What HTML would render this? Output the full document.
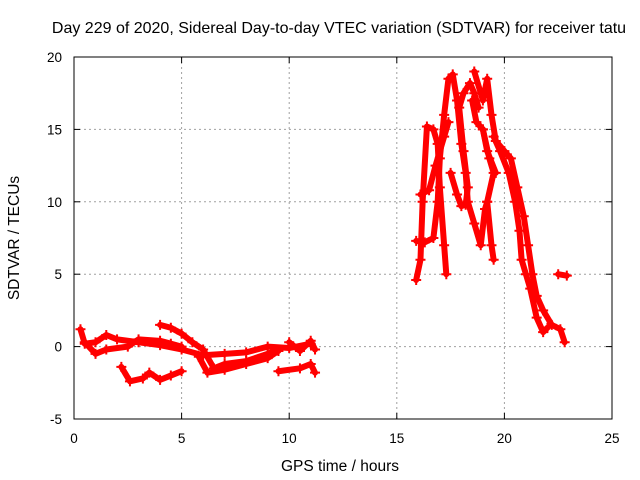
<!DOCTYPE html>
<html><head><meta charset="utf-8"><style>
html,body{margin:0;padding:0;background:#fff}
svg{display:block;font-family:"Liberation Sans",sans-serif}
</style></head><body>
<svg id="chart" width="640" height="480">
<text x="339" y="33" font-size="16" text-anchor="middle" fill="#000">Day 229 of 2020, Sidereal Day-to-day VTEC variation (SDTVAR) for receiver tatu</text>
<text x="340" y="471" font-size="15.5" text-anchor="middle">GPS time / hours</text>
<text x="19" y="238" font-size="15.5" text-anchor="middle" transform="rotate(-90 19 238)">SDTVAR / TECUs</text>
<g id="grid"></g>
<g id="marks"></g>
<rect x="74" y="57" width="538" height="362" fill="none" stroke="#000" stroke-width="1"/>
<g id="ticks"></g>
</svg>
<script>
const xTicks=[0,5,10,15,20,25];
const yTicks=[-5,0,5,10,15,20];
const trackA=[[0.3,1.2],[0.5,0.2],[1,0.3],[1.5,0.8],[2,0.5],[3,0.3],[4,0.1],[5,-0.2],[6,-0.6],[7,-0.5],[8,-0.4],[9,0],[10,-0.1],[11,0.2]];
const trackB=[[0.5,0.3],[1,-0.5],[1.5,-0.2],[2.5,0],[3,0.5],[4,0.4],[4.5,0.2],[5,0]];
const trackC=[[4,1.5],[4.5,1.3],[5,0.9],[5.5,0.3],[6,-0.2],[6.5,-1.5],[7,-1.2],[8,-1],[9,-0.5],[9.5,-0.2]];
const trackD=[[2.2,-1.4],[2.6,-2.4],[3.2,-2.2],[3.5,-1.8],[4,-2.3],[4.5,-2],[5,-1.7]];
const trackE=[[5.8,-0.7],[6.2,-1.8],[7,-1.6],[8,-1.2],[9,-0.8],[9.5,-0.3]];
const trackF=[[9.5,-1.7],[10.5,-1.5],[11,-1.2],[11.2,-1.8]];
const trackG=[[10,0.3],[10.5,-0.3],[11,0.4],[11.2,-0.2]];
const trackR1=[[15.9,4.6],[16.1,6],[16.2,10],[16.4,15.2],[16.7,15],[16.9,14],[17,11],[17.2,7],[17.3,5]];
const trackR2=[[15.9,7.3],[16.3,7.2],[16.7,7.5],[16.9,10],[17,13],[17.2,16],[17.4,18.5],[17.6,18.8],[17.8,17],[18,14],[18.2,12],[18.3,10],[18.6,8.5],[18.9,7],[19.1,9.5],[19.2,10]];
const trackR3=[[16.1,10.5],[16.5,10.8],[16.8,12.5],[17.2,14.5],[17.4,15.5]];
const trackR4=[[17.5,12],[17.8,10.5],[18,9.7],[18.2,9.8],[18.3,11],[18.1,13.5],[17.9,16.5],[18.1,17.5],[18.4,18.2],[18.6,17.5],[18.8,16.5]];
const trackR5=[[18.5,17],[18.7,15.5],[19,15],[19.3,13],[19.5,12],[19.2,10],[19.4,7],[19.5,6]];
const trackR6=[[18.6,19],[19,17],[19.2,18.5],[19.4,16],[19.6,14.2],[20,13.5],[20.3,13],[20.6,11],[20.9,9],[21.1,7],[21.3,5],[21.5,3.5],[21.8,2.5],[22.2,1.5],[22.6,1.2],[22.8,0.3]];
const trackR7=[[19.5,14.5],[19.8,13.5],[20.2,12],[20.5,10],[20.7,8],[20.8,6],[21,5],[21.2,4],[21.5,2],[21.8,1],[22,1.3]];
const trackR8=[[22.5,5],[22.9,4.9]];
const trackR9=[[19,15],[19.2,13.5],[19.6,12]];
const tracks=[trackA,trackB,trackC,trackD,trackE,trackF,trackG,trackR1,trackR2,trackR3,trackR4,trackR5,trackR6,trackR7,trackR8,trackR9];

const X0=74,X1=612,Y0=419,Y1=57;
function sx(t){return X0+(t-0)/(25-0)*(X1-X0);}
function sy(v){return Y0-(v+5)/(20+5)*(Y0-Y1);}
const NS="http://www.w3.org/2000/svg";
const grid=document.getElementById('grid'),ticks=document.getElementById('ticks'),marks=document.getElementById('marks');
function mk(tag,attrs,parent){const e=document.createElementNS(NS,tag);for(const k in attrs)e.setAttribute(k,attrs[k]);parent.appendChild(e);return e;}
xTicks.forEach(t=>{
  const x=sx(t);
  if(t>0&&t<25){const g=mk('line',{x1:x,x2:x,y1:Y1,y2:Y0,stroke:'#a0a0a0','stroke-dasharray':'2,3'},grid);
  
  }
  mk('line',{x1:x,x2:x,y1:Y0,y2:Y0-6,stroke:'#000'},ticks);
  mk('line',{x1:x,x2:x,y1:Y1,y2:Y1+6,stroke:'#000'},ticks);
  const l=mk('text',{x:x,y:Y0+24,'font-size':13.5,'text-anchor':'middle'},ticks);
  l.textContent=t;
  
  
});
yTicks.forEach(v=>{
  const y=sy(v);
  if(v>-5&&v<20){const g=mk('line',{x1:X0,x2:X1,y1:y,y2:y,stroke:'#a0a0a0','stroke-dasharray':'2,3'},grid);
  
  }
  mk('line',{x1:X0,x2:X0+6,y1:y,y2:y,stroke:'#000'},ticks);
  mk('line',{x1:X1,x2:X1-6,y1:y,y2:y,stroke:'#000'},ticks);
  const l=mk('text',{x:X0-12,y:y+5,'font-size':13.5,'text-anchor':'end'},ticks);
  l.textContent=v;
  
  
});
tracks.forEach(tr=>{
  const pts=tr.map(p=>sx(p[0])+','+sy(p[1])).join(' ');
  const pl=mk('polyline',{points:pts,fill:'none',stroke:'#ff0000','stroke-width':6,'stroke-linejoin':'round','stroke-linecap':'round'},marks);
  
  
  tr.forEach(p=>{
    const x=sx(p[0]),y=sy(p[1]);
    const m=mk('path',{d:`M${x-5},${y}H${x+5}M${x},${y-5}V${y+5}`,stroke:'#ff0000','stroke-width':2},marks);
    
    
  });
});
</script>
</body></html>
